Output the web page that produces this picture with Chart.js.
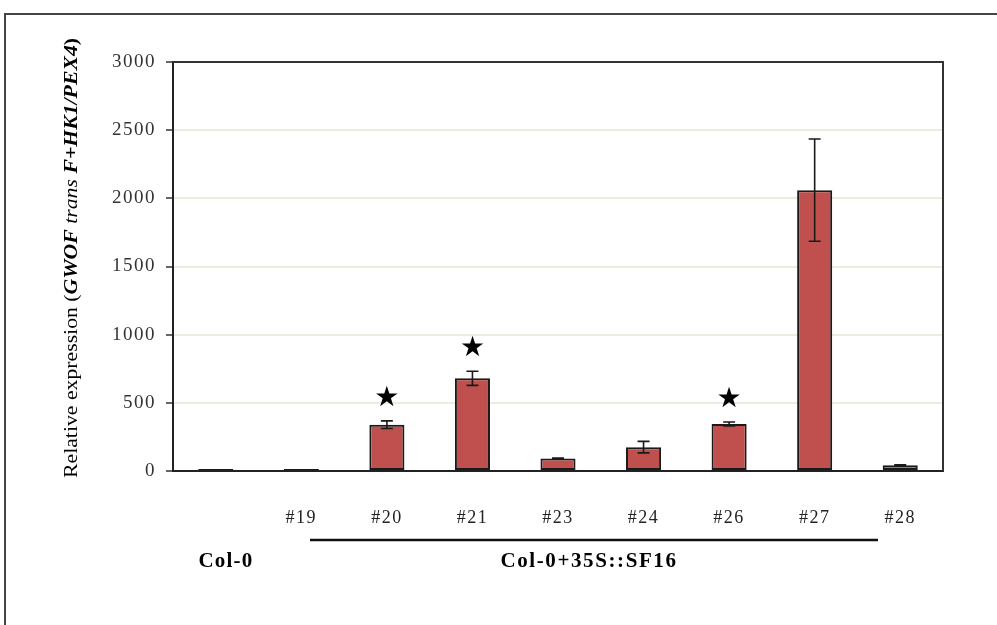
<!DOCTYPE html>
<html><head><meta charset="utf-8">
<script src="https://cdn.jsdelivr.net/npm/chart.js@4/dist/chart.umd.min.js"></script>
<style>html,body{margin:0;padding:0;background:#fff;} canvas{display:block}</style>
</head><body>
<canvas id="c" width="997" height="625"></canvas>
<script>
const categories = ['Col-0','#19','#20','#21','#23','#24','#26','#27','#28'];
const tickLabels = ['','#19','#20','#21','#23','#24','#26','#27','#28'];
const values = [14, 14, 340, 680, 92, 175, 345, 2060, 42];
const errors = [0, 0, 28, 52, 3, 42, 14, 375, 3];
const significant = [false, false, true, true, false, false, true, false, false];
const yMin = 0, yMax = 3000, yStep = 500;
const groupLabels = ['Col-0', 'Col-0+35S::SF16'];
const titleParts = [
  ['Relative expression (', 'normal'],
  ['GWOF', 'italic bold'],
  [' trans ', 'italic'],
  ['F+HK1/PEX4', 'italic bold'],
  [')', 'bold']
];

const SERIF = '"Liberation Serif", "Times New Roman", serif';

const extras = {
  id: 'extras',
  beforeDraw(chart) {
    chart.ctx.letterSpacing = '1.5px';
  },
  afterDatasetsDraw(chart) {
    const ctx = chart.ctx;
    const x = chart.scales.x, y = chart.scales.y;
    const ca = chart.chartArea;
    ctx.save();
    ctx.letterSpacing = '0px';
    // error bars
    ctx.strokeStyle = '#1a1a1a';
    ctx.lineWidth = 1.6;
    values.forEach((v, i) => {
      const e = errors[i];
      if (!e) return;
      const cx = x.getPixelForValue(i);
      const yt = y.getPixelForValue(v + e), yb = y.getPixelForValue(v - e);
      ctx.beginPath();
      ctx.moveTo(cx, yt); ctx.lineTo(cx, yb);
      ctx.moveTo(cx - 6, yt); ctx.lineTo(cx + 6, yt);
      ctx.moveTo(cx - 6, yb); ctx.lineTo(cx + 6, yb);
      ctx.stroke();
    });
    // stars
    ctx.fillStyle = '#000';
    ctx.font = '28px "DejaVu Sans"';
    ctx.textAlign = 'center';
    ctx.textBaseline = 'middle';
    values.forEach((v, i) => {
      if (!significant[i]) return;
      const cx = x.getPixelForValue(i);
      const yt = y.getPixelForValue(v + errors[i]);
      ctx.fillText('\u2605', cx, yt - 22);
    });
    // plot frame top/right
    ctx.strokeStyle = '#333';
    ctx.lineWidth = 2;
    ctx.beginPath();
    ctx.moveTo(ca.left, ca.top); ctx.lineTo(ca.right, ca.top); ctx.lineTo(ca.right, ca.bottom);
    ctx.stroke();
    // outer frame
    ctx.strokeStyle = '#444';
    ctx.beginPath();
    ctx.moveTo(5, 625); ctx.lineTo(5, 14); ctx.lineTo(997, 14);
    ctx.stroke();
    // group bracket line
    ctx.strokeStyle = '#111';
    ctx.lineWidth = 2.5;
    ctx.beginPath();
    ctx.moveTo(310, 540); ctx.lineTo(878, 540);
    ctx.stroke();
    // group labels
    ctx.fillStyle = '#000';
    ctx.textBaseline = 'middle';
    ctx.textAlign = 'center';
    ctx.letterSpacing = '1.2px';
    ctx.font = 'bold 21px ' + SERIF;
    ctx.fillText(groupLabels[0], 226, 562);
    ctx.letterSpacing = '1.6px';
    ctx.fillText(groupLabels[1], 589, 562);
    ctx.letterSpacing = '0px';
    // y title
    ctx.save();
    ctx.translate(72, 258);
    ctx.rotate(-Math.PI / 2);
    let total = 0;
    const ws = titleParts.map(([t, s]) => { ctx.font = s + ' 19px ' + SERIF; const w = ctx.measureText(t).width; total += w; return w; });
    const sc = 440 / total;
    ctx.scale(sc, 1);
    let px = -total / 2;
    ctx.textAlign = 'left';
    ctx.textBaseline = 'middle';
    ctx.fillStyle = '#000';
    titleParts.forEach(([t, s], i) => { ctx.font = s + ' 19px ' + SERIF; ctx.fillText(t, px, 0); px += ws[i]; });
    ctx.restore();
    ctx.restore();
  }
};

new Chart(document.getElementById('c'), {
  type: 'bar',
  data: {
    labels: tickLabels,
    datasets: [{
      data: values,
      backgroundColor: '#c0504d',
      borderColor: '#1a1a1a',
      borderWidth: 2,
      borderSkipped: false,
      categoryPercentage: 1,
      barPercentage: 0.41
    }]
  },
  options: {
    responsive: false,
    animation: false,
    layout: { padding: { left: 0, top: 62, right: 54, bottom: 0 } },
    plugins: { legend: { display: false }, tooltip: { enabled: false } },
    scales: {
      x: {
        grid: { display: false },
        border: { color: '#222', width: 2 },
        ticks: { color: '#222', font: { family: SERIF, size: 18 }, padding: 28, maxRotation: 0 },
        afterFit: s => { s.height = 154; }
      },
      y: {
        min: yMin, max: yMax,
        ticks: { stepSize: yStep, color: '#333', font: { family: SERIF, size: 19 }, padding: 10,
                 callback: v => String(v) },
        grid: { color: '#eeebdf', lineWidth: 2, tickColor: '#333', tickLength: 7, tickWidth: 1.5 },
        border: { color: '#222', width: 2 },
        afterFit: s => { s.width = 173; }
      }
    }
  },
  plugins: [extras]
});
</script>
</body></html>
